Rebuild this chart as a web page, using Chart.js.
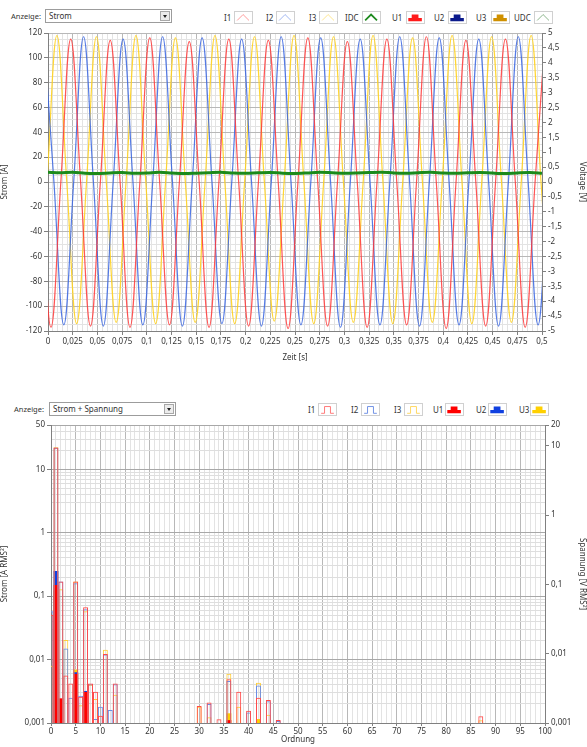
<!DOCTYPE html>
<html>
<head>
<meta charset="utf-8">
<script src="https://cdn.jsdelivr.net/npm/chart.js@4.4.1/dist/chart.umd.min.js"></script>
<style>
  body { margin: 0; width: 587px; height: 747px; position: relative; background: #fff; overflow: hidden;
         font-family: 'Noto Sans', sans-serif; font-size: 8px; color: #333; }
  .anz { position: absolute; line-height: 14px; font-size: 7.5px; }
  .box { position: absolute; height: 14px; border: 1px solid #9c9c9c; background: #fff; box-sizing: border-box;
         line-height: 12px; padding-left: 3px; }
  .btn { position: absolute; right: 1px; top: 1px; width: 10px; height: 10px; border: 1px solid #a8a8a8;
         background: #ececec; box-sizing: border-box; }
  .btn:after { content: ''; position: absolute; left: 2px; top: 3px; border-left: 2.5px solid transparent;
               border-right: 2.5px solid transparent; border-top: 3px solid #222; }
  .lg { position: absolute; line-height: 13px; }
  .ic { position: absolute; width: 19px; height: 13px; border: 1px solid #d0d0d0; background: #fff; box-sizing: border-box; }
  .wrap { position: absolute; left: 0; width: 587px; }
</style>
</head>
<body>

<!-- obere Grafik: Kopfzeile -->
<div class="anz" style="left:11px;top:9px">Anzeige:</div>
<div class="box" style="left:45px;top:9px;width:127px">Strom<div class="btn"></div></div>

<div class="lg" style="left:224px;top:11px">I1</div>
<svg class="ic" style="left:234px;top:11px" viewBox="0 0 19 13"><polyline points="2,10 9,3 16,10" fill="none" stroke="#ff8a8a" stroke-width="1"/></svg>
<div class="lg" style="left:266px;top:11px">I2</div>
<svg class="ic" style="left:276px;top:11px" viewBox="0 0 19 13"><polyline points="2,10 9,3 16,10" fill="none" stroke="#8eaaf0" stroke-width="1"/></svg>
<div class="lg" style="left:309px;top:11px">I3</div>
<svg class="ic" style="left:319px;top:11px" viewBox="0 0 19 13"><polyline points="2,10 9,3 16,10" fill="none" stroke="#ffe27a" stroke-width="1"/></svg>
<div class="lg" style="left:345px;top:11px">IDC</div>
<svg class="ic" style="left:362px;top:11px" viewBox="0 0 19 13"><polyline points="2,10 9,3 16,10" fill="none" stroke="#1f8a1f" stroke-width="2"/></svg>
<div class="lg" style="left:392px;top:11px">U1</div>
<svg class="ic" style="left:406px;top:11px" viewBox="0 0 19 13"><path d="M1,11 V7 H5 V3 H13 V7 H17 V11 Z" fill="#ff1a1a"/></svg>
<div class="lg" style="left:434px;top:11px">U2</div>
<svg class="ic" style="left:448px;top:11px" viewBox="0 0 19 13"><path d="M1,11 V7 H5 V3 H13 V7 H17 V11 Z" fill="#0b1a8c"/></svg>
<div class="lg" style="left:476px;top:11px">U3</div>
<svg class="ic" style="left:491px;top:11px" viewBox="0 0 19 13"><path d="M1,11 V7 H5 V3 H13 V7 H17 V11 Z" fill="#cf9000"/></svg>
<div class="lg" style="left:514px;top:11px">UDC</div>
<svg class="ic" style="left:534px;top:11px" viewBox="0 0 19 13"><polyline points="2,10 9,3 16,10" fill="none" stroke="#78a878" stroke-width="1"/></svg>

<div class="wrap" style="top:25px;height:340px"><canvas id="zeitChart"></canvas></div>

<!-- untere Grafik: Kopfzeile -->
<div class="anz" style="left:14px;top:402px">Anzeige:</div>
<div class="box" style="left:49px;top:402px;width:127px">Strom + Spannung<div class="btn"></div></div>

<div class="lg" style="left:308px;top:403px">I1</div>
<svg class="ic" style="left:318px;top:403px" viewBox="0 0 19 13"><polyline points="2,11 6,11 6,3 13,3 13,11 17,11" fill="none" stroke="#ff6464" stroke-width="1"/></svg>
<div class="lg" style="left:351px;top:403px">I2</div>
<svg class="ic" style="left:361px;top:403px" viewBox="0 0 19 13"><polyline points="2,11 6,11 6,3 13,3 13,11 17,11" fill="none" stroke="#5a80e0" stroke-width="1"/></svg>
<div class="lg" style="left:394px;top:403px">I3</div>
<svg class="ic" style="left:404px;top:403px" viewBox="0 0 19 13"><polyline points="2,11 6,11 6,3 13,3 13,11 17,11" fill="none" stroke="#ffd24a" stroke-width="1"/></svg>
<div class="lg" style="left:433px;top:403px">U1</div>
<svg class="ic" style="left:445px;top:403px" viewBox="0 0 19 13"><path d="M1,11 V7 H5 V3 H13 V7 H17 V11 Z" fill="#ff0000"/></svg>
<div class="lg" style="left:476px;top:403px">U2</div>
<svg class="ic" style="left:488px;top:403px" viewBox="0 0 19 13"><path d="M1,11 V7 H5 V3 H13 V7 H17 V11 Z" fill="#1040e0"/></svg>
<div class="lg" style="left:519px;top:403px">U3</div>
<svg class="ic" style="left:530px;top:403px" viewBox="0 0 19 13"><path d="M1,11 V7 H5 V3 H13 V7 H17 V11 Z" fill="#ffd000"/></svg>

<div class="wrap" style="top:418px;height:329px"><canvas id="ordChart"></canvas></div>

<script>
// ---- obere Grafik: Zeitverlauf ----
zeitTickValues = [0, 0.025, 0.05, 0.075, 0.1, 0.125, 0.15, 0.175, 0.2, 0.225, 0.25,
  0.275, 0.3, 0.325, 0.35, 0.375, 0.4, 0.425, 0.45, 0.475, 0.5];
zeitTickLabels = ["0", "0,025", "0,05", "0,075", "0,1", "0,125", "0,15", "0,175", "0,2", "0,225", "0,25",
  "0,275", "0,3", "0,325", "0,35", "0,375", "0,4", "0,425", "0,45", "0,475", "0,5"];
stromTickValues = [-120, -100, -80, -60, -40, -20, 0, 20, 40, 60, 80, 100, 120];
stromTickLabels = ["-120", "-100", "-80", "-60", "-40", "-20", "0", "20", "40", "60", "80", "100", "120"];
voltTickValues = [-5, -4.5, -4, -3.5, -3, -2.5, -2, -1.5, -1, -0.5, 0, 0.5, 1, 1.5, 2, 2.5, 3, 3.5, 4, 4.5, 5];
voltTickLabels = ["-5", "-4,5", "-4", "-3,5", "-3", "-2,5", "-2", "-1,5", "-1", "-0,5", "0",
  "0,5", "1", "1,5", "2", "2,5", "3", "3,5", "4", "4,5", "5"];

// I1 (rot): Nulldurchgaenge und Extremwerte
i1Zeit = [-0.007, 0.003, 0.013, 0.023, 0.033, 0.043, 0.053, 0.063, 0.073, 0.083, 0.093, 0.103, 0.113,
  0.123, 0.133, 0.143, 0.153, 0.163, 0.173, 0.183, 0.193, 0.203, 0.213, 0.223, 0.233, 0.243, 0.253,
  0.263, 0.273, 0.283, 0.293, 0.303, 0.313, 0.323, 0.333, 0.343, 0.353, 0.363, 0.373, 0.383, 0.393,
  0.403, 0.413, 0.423, 0.433, 0.443, 0.453, 0.463, 0.473, 0.483, 0.493, 0.503];
i1Strom = [0, -117, 0, 115, 0, -116, 0, 114, 0, -117, 0, 116, 0, -115, 0, 113, 0, -117, 0, 115,
  0, -116, 0, 114, 0, -118, 0, 116, 0, -116, 0, 113, 0, -117, 0, 115, 0, -115, 0, 117,
  0, -118, 0, 114, 0, -116, 0, 115, 0, -117, 0, 116];

// I2 (blau)
i2Zeit = [-0.004, 0.006, 0.016, 0.026, 0.036, 0.046, 0.056, 0.066, 0.076, 0.086, 0.096, 0.106, 0.116,
  0.126, 0.136, 0.146, 0.156, 0.166, 0.176, 0.186, 0.196, 0.206, 0.216, 0.226, 0.236, 0.246, 0.256,
  0.266, 0.276, 0.286, 0.296, 0.306, 0.316, 0.326, 0.336, 0.346, 0.356, 0.366, 0.376, 0.386, 0.396,
  0.406, 0.416, 0.426, 0.436, 0.446, 0.456, 0.466, 0.476, 0.486, 0.496, 0.506];
i2Strom = [116, 0, -115, 0, 117, 0, -116, 0, 115, 0, -115, 0, 117, 0, -116, 0, 116, 0, -114, 0,
  115, 0, -116, 0, 117, 0, -115, 0, 116, 0, -117, 0, 115, 0, -115, 0, 117, 0, -116, 0,
  116, 0, -115, 0, 115, 0, -116, 0, 117, 0, -115, 0];

// I3 (gelb)
i3Zeit = [-0.001, 0.009, 0.019, 0.029, 0.039, 0.049, 0.059, 0.069, 0.079, 0.089, 0.099, 0.109, 0.119,
  0.129, 0.139, 0.149, 0.159, 0.169, 0.179, 0.189, 0.199, 0.209, 0.219, 0.229, 0.239, 0.249, 0.259,
  0.269, 0.279, 0.289, 0.299, 0.309, 0.319, 0.329, 0.339, 0.349, 0.359, 0.369, 0.379, 0.389, 0.399,
  0.409, 0.419, 0.429, 0.439, 0.449, 0.459, 0.469, 0.479, 0.489, 0.499, 0.509];
i3Strom = [0, 118, 0, -114, 0, 117, 0, -113, 0, 118, 0, -114, 0, 116, 0, -113, 0, 118, 0, -114,
  0, 117, 0, -112, 0, 118, 0, -114, 0, 117, 0, -113, 0, 118, 0, -114, 0, 116, 0, -113,
  0, 118, 0, -114, 0, 117, 0, -113, 0, 118, 0, -114];

// IDC (gruen)
idcZeit = [0, 0.0125, 0.025, 0.0375, 0.05, 0.0625, 0.075, 0.0875, 0.1, 0.1125, 0.125, 0.1375, 0.15,
  0.1625, 0.175, 0.1875, 0.2, 0.2125, 0.225, 0.2375, 0.25, 0.2625, 0.275, 0.2875, 0.3, 0.3125,
  0.325, 0.3375, 0.35, 0.3625, 0.375, 0.3875, 0.4, 0.4125, 0.425, 0.4375, 0.45, 0.4625, 0.475, 0.4875, 0.5];
idcStrom = [7.8, 7.4, 7.9, 7.1, 6.9, 7.3, 7.6, 7.0, 7.2, 7.8, 7.3, 6.8, 7.1, 7.5, 7.9, 7.2, 7.0, 7.4,
  7.7, 7.1, 6.9, 7.3, 7.8, 7.4, 7.0, 7.2, 7.6, 7.9, 7.3, 7.1, 7.5, 7.8, 7.2, 7.0, 7.4, 7.7, 7.2,
  6.9, 7.3, 7.6, 7.1];

// ---- untere Grafik: Oberschwingungen ----
ordnungTickValues = [0, 5, 10, 15, 20, 25, 30, 35, 40, 45, 50, 55, 60, 65, 70, 75, 80, 85, 90, 95, 100];
ordnungTickLabels = ["0", "5", "10", "15", "20", "25", "30", "35", "40", "45", "50",
  "55", "60", "65", "70", "75", "80", "85", "90", "95", "100"];
stromRmsTickValues = [0.001, 0.01, 0.1, 1, 10, 50];
stromRmsTickLabels = ["0,001", "0,01", "0,1", "1", "10", "50"];
spannungTickValues = [0.001, 0.01, 0.1, 1, 10, 20];
spannungTickLabels = ["0,001", "0,01", "0,1", "1", "10", "20"];

ordnung = [0, 1, 2, 3, 4, 5, 6, 7, 8, 9, 10, 11, 12, 13, 30, 32, 34, 36, 38, 40, 42, 44, 46, 87];
i1Rms = [0.051, 22, 0.17, 0.0056, 0.0042, 0.17, 0.0026, 0.067, 0.0042, 0.0031, 0.0013, 0.0123, null,
  0.0042, 0.00186, 0.0021, 0.00115, 0.0049, 0.0031, 0.00156, 0.0025, 0.0023, 0.00112, 0.00128];
i2Rms = [0.058, 21.8, 0.17, 0.0149, 0.0025, 0.16, 0.0027, 0.062, 0.0041, 0.00116, 0.0018, 0.012, 0.0016,
  0.0041, null, 0.002, null, 0.0046, null, 0.00147, 0.0039, 0.0022, 0.00108, null];
i3Rms = [0.008, 22.3, 0.128, 0.0203, null, 0.17, 0.0019, 0.058, 0.004, 0.0024, null, 0.0143, null,
  0.0028, 0.0018, 0.00123, null, 0.006, 0.0018, null, 0.0043, 0.00135, null, 0.0011];
u1Rms = [null, 0.098, 0.00227, null, null, 0.0051, null, 0.0028, null, null, null, null, null,
  null, null, null, null, 0.0011, null, null, null, null, null, null];
u2Rms = [null, 0.156, null, null, null, 0.0054, null, 0.0029, null, null, null, null, null,
  null, null, null, null, null, null, null, null, null, null, null];
u3Rms = [null, 0.08, null, null, null, 0.0059, null, null, null, null, null, null, null,
  null, null, null, null, 0.00138, null, null, 0.00114, null, null, null];

Chart.defaults.font.family = "'Noto Sans', sans-serif";
Chart.defaults.font.size = 8;
Chart.defaults.color = "#333";

function pickLabel(values, labels, v) {
  for (let i = 0; i < values.length; i++) {
    if (Math.abs(values[i] - v) <= Math.abs(values[i]) * 1e-6 + 1e-12) return labels[i];
  }
  return "";
}

function toPoints(xs, ys) {
  return xs.map((x, i) => ({ x: x, y: ys[i] }));
}

function gridColor(values, labels, major, minor) {
  return (ctx) => (ctx.tick && pickLabel(values, labels, ctx.tick.value) !== "" ? major : minor);
}

function tickColor(values, labels) {
  return (ctx) => (ctx.tick && pickLabel(values, labels, ctx.tick.value) !== "" ? "#808080" : "rgba(0,0,0,0)");
}

const axisTitle = (text) => ({ display: true, text: text, color: "#333", font: { size: 8 }, padding: { top: 0, bottom: 2 } });

zeitChart = new Chart(document.getElementById("zeitChart"), {
  type: "line",
  data: {
    datasets: [
      { label: "IDC", data: toPoints(idcZeit, idcStrom), borderColor: "#1b8a1b", borderWidth: 3, tension: 0.3, order: 0 },
      { label: "I1", data: toPoints(i1Zeit, i1Strom), borderColor: "rgba(255,55,55,0.85)", borderWidth: 1.2, tension: 0.4, order: 1 },
      { label: "I2", data: toPoints(i2Zeit, i2Strom), borderColor: "rgba(55,100,225,0.85)", borderWidth: 1.2, tension: 0.4, order: 2 },
      { label: "I3", data: toPoints(i3Zeit, i3Strom), borderColor: "rgba(255,210,30,0.9)", borderWidth: 1.2, tension: 0.4, order: 3 },
    ],
  },
  options: {
    responsive: true,
    maintainAspectRatio: false,
    animation: false,
    events: [],
    layout: { padding: { top: 8, left: 0, right: 0, bottom: 0 } },
    elements: { point: { radius: 0 } },
    plugins: { legend: { display: false }, tooltip: { enabled: false } },
    scales: {
      x: {
        type: "linear",
        min: 0,
        max: 0.5,
        afterBuildTicks: (s) => {
          const t = [];
          for (let i = 0; i <= 100; i++) t.push({ value: Math.round(i * 5) / 1000 });
          s.ticks = t;
        },
        afterFit: (s) => { s.height = 34; },
        ticks: {
          autoSkip: false, maxRotation: 0, padding: 2,
          callback: (v) => pickLabel(zeitTickValues, zeitTickLabels, v),
        },
        grid: {
          color: gridColor(zeitTickValues, zeitTickLabels, "#b8b8b8", "#e3e3e3"),
          tickColor: tickColor(zeitTickValues, zeitTickLabels),
          tickLength: 4,
        },
        border: { color: "#808080" },
        title: axisTitle("Zeit [s]"),
      },
      y: {
        position: "left",
        min: -120,
        max: 120,
        afterBuildTicks: (s) => {
          const t = [];
          for (let v = -120; v <= 120; v += 5) t.push({ value: v });
          s.ticks = t;
        },
        afterFit: (s) => { s.width = 48; },
        ticks: { autoSkip: false, padding: 2, callback: (v) => pickLabel(stromTickValues, stromTickLabels, v) },
        grid: {
          color: gridColor(stromTickValues, stromTickLabels, "#b8b8b8", "#e3e3e3"),
          tickColor: tickColor(stromTickValues, stromTickLabels),
          tickLength: 4,
        },
        border: { color: "#808080" },
        title: axisTitle("Strom [A]"),
      },
      y1: {
        position: "right",
        min: -5,
        max: 5,
        afterBuildTicks: (s) => { s.ticks = voltTickValues.map((v) => ({ value: v })); },
        afterFit: (s) => { s.width = 45; },
        ticks: { autoSkip: false, padding: 2, callback: (v) => pickLabel(voltTickValues, voltTickLabels, v) },
        grid: { drawOnChartArea: false, tickColor: "#808080", tickLength: 4 },
        border: { color: "#808080" },
        title: axisTitle("Voltage [V]"),
      },
    },
  },
});

ordChart = new Chart(document.getElementById("ordChart"), {
  type: "bar",
  data: {
    datasets: [
      { label: "I1", data: toPoints(ordnung, i1Rms), yAxisID: "y", backgroundColor: "rgba(0,0,0,0)",
        borderColor: "#ff4a4a", borderWidth: 1, order: 1 },
      { label: "I2", data: toPoints(ordnung, i2Rms), yAxisID: "y", backgroundColor: "rgba(0,0,0,0)",
        borderColor: "#6a8ee8", borderWidth: 1, order: 2 },
      { label: "I3", data: toPoints(ordnung, i3Rms), yAxisID: "y", backgroundColor: "rgba(0,0,0,0)",
        borderColor: "#ffcf3a", borderWidth: 1, order: 3 },
      { label: "U1", data: toPoints(ordnung, u1Rms), yAxisID: "y1", backgroundColor: "#ff0000", borderWidth: 0, order: 4 },
      { label: "U2", data: toPoints(ordnung, u2Rms), yAxisID: "y1", backgroundColor: "#1040e0", borderWidth: 0, order: 5 },
      { label: "U3", data: toPoints(ordnung, u3Rms), yAxisID: "y1", backgroundColor: "#ffd000", borderWidth: 0, order: 6 },
    ],
  },
  options: {
    responsive: true,
    maintainAspectRatio: false,
    animation: false,
    events: [],
    layout: { padding: { top: 7, left: 0, right: 0, bottom: 0 } },
    datasets: { bar: { grouped: false, barPercentage: 1, categoryPercentage: 1, inflateAmount: 0 } },
    plugins: { legend: { display: false }, tooltip: { enabled: false } },
    scales: {
      x: {
        type: "linear",
        min: 0,
        max: 100,
        offset: false,
        afterBuildTicks: (s) => {
          const t = [];
          for (let v = 0; v <= 100; v++) t.push({ value: v });
          s.ticks = t;
        },
        afterFit: (s) => { s.height = 24; },
        ticks: { autoSkip: false, maxRotation: 0, padding: 1, callback: (v) => pickLabel(ordnungTickValues, ordnungTickLabels, v) },
        grid: {
          offset: false,
          color: gridColor(ordnungTickValues, ordnungTickLabels, "#b8b8b8", "#e3e3e3"),
          tickColor: tickColor(ordnungTickValues, ordnungTickLabels),
          tickLength: 3,
        },
        border: { color: "#808080" },
        title: axisTitle("Ordnung"),
      },
      y: {
        type: "logarithmic",
        position: "left",
        min: 0.001,
        max: 50,
        afterBuildTicks: (s) => {
          const t = [];
          for (let e = -3; e <= 1; e++) {
            for (let k = 1; k <= 9; k++) {
              const v = +(k * Math.pow(10, e)).toPrecision(3);
              if (v <= 50) t.push({ value: v });
            }
          }
          s.ticks = t;
        },
        afterFit: (s) => { s.width = 51; },
        ticks: { autoSkip: false, padding: 2, callback: (v) => pickLabel(stromRmsTickValues, stromRmsTickLabels, v) },
        grid: {
          color: gridColor(stromRmsTickValues, stromRmsTickLabels, "#a8a8a8", "#dedede"),
          tickColor: tickColor(stromRmsTickValues, stromRmsTickLabels),
          tickLength: 4,
        },
        border: { color: "#808080" },
        title: axisTitle("Strom [A RMS²]"),
      },
      y1: {
        type: "logarithmic",
        position: "right",
        min: 0.001,
        max: 20,
        afterBuildTicks: (s) => { s.ticks = spannungTickValues.map((v) => ({ value: v })); },
        afterFit: (s) => { s.width = 42; },
        ticks: { autoSkip: false, padding: 2, callback: (v) => pickLabel(spannungTickValues, spannungTickLabels, v) },
        grid: { drawOnChartArea: false, tickColor: "#808080", tickLength: 4 },
        border: { color: "#808080" },
        title: axisTitle("Spannung [V RMS²]"),
      },
    },
  },
});
</script>
</body>
</html>
